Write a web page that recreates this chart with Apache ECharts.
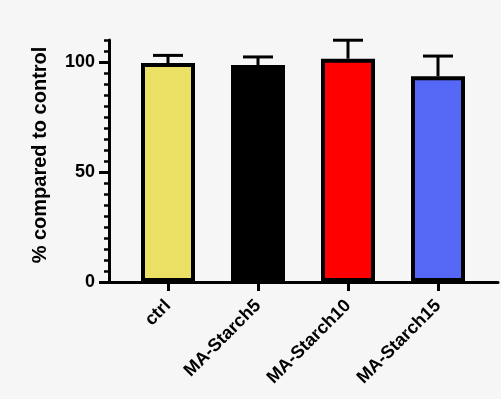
<!DOCTYPE html>
<html><head><meta charset="utf-8">
<script src="https://cdn.jsdelivr.net/npm/echarts@6/dist/echarts.min.js"></script>
<style>html,body{margin:0;padding:0;background:#fafafa;}#c{width:501px;height:399px;}</style>
</head><body><div id="c"></div>
<script>
const categories = ['ctrl', 'MA-Starch5', 'MA-Starch10', 'MA-Starch15'];
const means = [99.5, 98.6, 101.5, 93.5];
const upper = [103.0, 102.3, 109.9, 102.7];
const barColors = ['#ebe063', '#000000', '#ff0000', '#5468f5'];
const yMajorTicks = [0, 50, 100];

const FONT = '"Liberation Sans", Arial, sans-serif';
const chart = echarts.init(document.getElementById('c'));
const barData = means.map((v, i) => ({ value: v, itemStyle: { color: barColors[i] } }));
const errData = means.map((v, i) => [i, v, upper[i]]);

chart.setOption({
  backgroundColor: '#f6f6f6',
  animation: false,
  grid: [
    { left: 109, right: 3, top: 40, bottom: 117 },
    { left: 123, right: 18, top: 40, bottom: 117 }
  ],
  xAxis: [
    { gridIndex: 0, type: 'value', min: 0, max: 1, axisLine: { show: true, onZero: false, lineStyle: { color: '#000', width: 3 } },
      axisTick: { show: false }, axisLabel: { show: false }, splitLine: { show: false } },
    { gridIndex: 1, type: 'category', data: categories, axisLine: { show: false },
      axisTick: { show: true, alignWithLabel: true, length: 9, lineStyle: { color: '#000', width: 3 } },
      axisLabel: { rotate: 45, margin: 21, fontFamily: FONT, fontWeight: 'bold', fontSize: 18, color: '#000', interval: 0 },
      splitLine: { show: false } }
  ],
  yAxis: [
    { gridIndex: 0, type: 'value', min: 0, max: 110, position: 'left',
      name: '% compared to control', nameLocation: 'middle', nameGap: 59,
      nameTextStyle: { fontFamily: FONT, fontWeight: 'bold', fontSize: 20, color: '#000', padding: [0, 0, 0, 12] },
      axisLine: { show: true, lineStyle: { color: '#000', width: 3 } },
      axisTick: { show: true, length: 10, customValues: yMajorTicks, lineStyle: { color: '#000', width: 3 } },
      axisLabel: { customValues: yMajorTicks, margin: 14, fontFamily: FONT, fontWeight: 'bold', fontSize: 18, color: '#000' },
      splitLine: { show: false } },
    { gridIndex: 0, type: 'value', min: 0, max: 110, interval: 5, position: 'left',
      axisLine: { show: false },
      axisTick: { show: true, length: 5, lineStyle: { color: '#000', width: 2.5 } },
      axisLabel: { show: false }, splitLine: { show: false } },
    { gridIndex: 1, type: 'value', min: 0, max: 110, show: false, splitLine: { show: false } }
  ],
  series: [
    { type: 'custom', xAxisIndex: 1, yAxisIndex: 2, data: errData, z: 1,
      renderItem: function (params, api) {
        const top = api.coord([api.value(0), api.value(2)]);
        const base = api.coord([api.value(0), api.value(1)]);
        const half = 15;
        return { type: 'group', children: [
          { type: 'line', shape: { x1: top[0], y1: top[1], x2: base[0], y2: base[1] }, style: { stroke: '#000', lineWidth: 3 } },
          { type: 'line', shape: { x1: top[0] - half, y1: top[1], x2: top[0] + half, y2: top[1] }, style: { stroke: '#000', lineWidth: 3 } }
        ] };
      } },
    { type: 'bar', xAxisIndex: 1, yAxisIndex: 2, data: barData, barWidth: 54, z: 2,
      itemStyle: { borderColor: '#000', borderWidth: 4 } }
  ]
});
</script></body></html>
